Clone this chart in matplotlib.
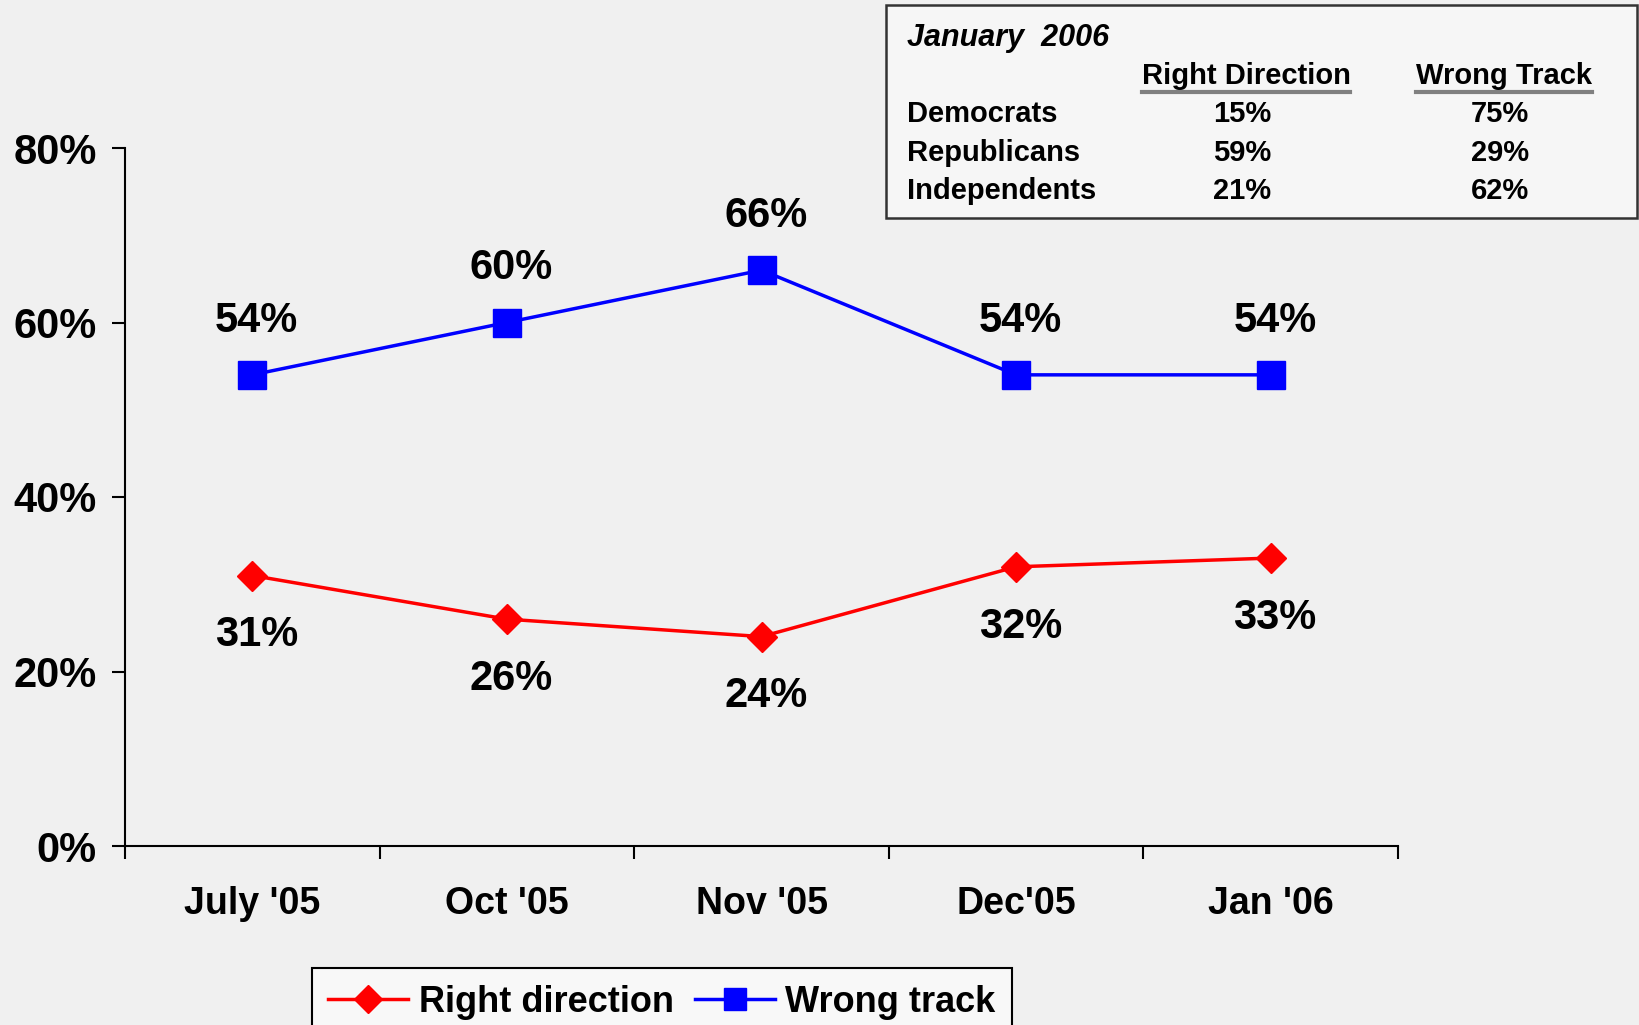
import matplotlib
matplotlib.use("Agg")
import matplotlib.pyplot as plt
from matplotlib.lines import Line2D
from matplotlib.patches import Rectangle

categories = ["July '05", "Oct '05", "Nov '05", "Dec'05", "Jan '06"]
right_direction = [0.31, 0.26, 0.24, 0.32, 0.33]
wrong_track = [0.54, 0.60, 0.66, 0.54, 0.54]
y_ticks = [0.0, 0.2, 0.4, 0.6, 0.8]
y_tick_labels = ["0%", "20%", "40%", "60%", "80%"]

inset_title = "January  2006"
inset_headers = ["Right Direction", "Wrong Track"]
inset_groups = ["Democrats", "Republicans", "Independents"]
inset_right = ["15%", "59%", "21%"]
inset_wrong = ["75%", "29%", "62%"]

BG = "#f0f0f0"
BOLD = ["Liberation Sans", "DejaVu Sans"]

plt.rcParams["font.family"] = BOLD
plt.rcParams["font.weight"] = "bold"

fig = plt.figure(figsize=(16.39, 10.25), dpi=100, facecolor=BG)
ax = fig.add_axes([125 / 1639, 1 - 846 / 1025, (1398 - 125) / 1639, (846 - 148) / 1025])
ax.set_facecolor(BG)

x = list(range(len(categories)))
ax.plot(x, right_direction, color="#ff0000", lw=2.5, marker="D", ms=15, mec="#ff0000", mfc="#ff0000", zorder=3)
ax.plot(x, wrong_track, color="#0000ff", lw=2.5, marker="s", ms=19.5, mec="#0000ff", mfc="#0000ff", zorder=3)

for xi, v in zip(x, wrong_track):
    ax.annotate(f"{round(v*100)}%", (xi, v), xytext=(3, 39), textcoords="offset points",
                ha="center", va="center", fontsize=30, fontweight="bold")
for xi, v in zip(x, right_direction):
    ax.annotate(f"{round(v*100)}%", (xi, v), xytext=(3, -43), textcoords="offset points",
                ha="center", va="center", fontsize=30, fontweight="bold")

ax.set_xlim(-0.5, len(categories) - 0.5)
ax.set_ylim(0, 0.8)
ax.set_yticks(y_ticks)
ax.set_yticklabels(y_tick_labels, fontsize=30, fontweight="bold")
ax.set_xticks(x)
ax.set_xticklabels(categories, fontsize=27, fontweight="bold")
ax.set_xticks([i - 0.5 for i in range(len(categories) + 1)], minor=True)
ax.tick_params(axis="x", which="major", length=0, pad=29)
ax.tick_params(axis="x", which="minor", length=9, width=1.5, direction="out")
ax.tick_params(axis="y", length=9.5, width=1.5, direction="out", pad=11)
for s in ["top", "right"]:
    ax.spines[s].set_visible(False)
for s in ["left", "bottom"]:
    ax.spines[s].set_linewidth(1.5)
ax.spines["bottom"].set_bounds(-0.5, len(categories) - 0.5)

# Inset box
W, H = 1639, 1025
def fx(px):
    return px / W
def fy(py):
    return 1 - py / H

fig.patches.append(Rectangle((fx(886), fy(218)), fx(1637) - fx(886), fy(5) - fy(218),
                             transform=fig.transFigure, facecolor="#f6f6f6",
                             edgecolor="#333333", lw=1.8, zorder=1))
fig.text(fx(907), fy(38), inset_title, fontsize=22, fontweight="bold", style="italic",
         ha="left", va="center")
header_x = [1246, 1504]
header_texts = []
for hx, h in zip(header_x, inset_headers):
    header_texts.append(fig.text(fx(hx), fy(76), h, fontsize=21, fontweight="bold",
                                 ha="center", va="center"))
fig.canvas.draw()
r = fig.canvas.get_renderer()
for t in header_texts:
    bb = t.get_window_extent(r)
    fig.add_artist(Line2D([bb.x0 / W, bb.x1 / W], [fy(92), fy(92)], transform=fig.transFigure,
                          color="#808080", lw=3))
row_y = [114, 153, 191]
for ry, g, a, b in zip(row_y, inset_groups, inset_right, inset_wrong):
    fig.text(fx(907), fy(ry), g, fontsize=21, fontweight="bold", ha="left", va="center")
    fig.text(fx(1242), fy(ry), a, fontsize=21, fontweight="bold", ha="center", va="center")
    fig.text(fx(1500), fy(ry), b, fontsize=21, fontweight="bold", ha="center", va="center")

# Legend
handles = [
    Line2D([], [], color="#ff0000", lw=2.5, marker="D", ms=14, mec="#ff0000", mfc="#ff0000"),
    Line2D([], [], color="#0000ff", lw=2.5, marker="s", ms=16, mec="#0000ff", mfc="#0000ff"),
]
leg = fig.legend(handles, ["Right direction", "Wrong track"], loc="center",
                 bbox_to_anchor=(662 / W, fy(1002)), ncol=2, frameon=True, fancybox=False,
                 prop={"weight": "bold", "size": 26},
                 handlelength=2.2, handletextpad=0.3, columnspacing=0.6, borderpad=0.45)
leg.get_frame().set_edgecolor("#000000")
leg.get_frame().set_linewidth(1.5)
leg.get_frame().set_facecolor("#f8f8f8")
leg.get_frame().set_alpha(1)

fig.savefig("out.png", dpi=100, facecolor=BG)
